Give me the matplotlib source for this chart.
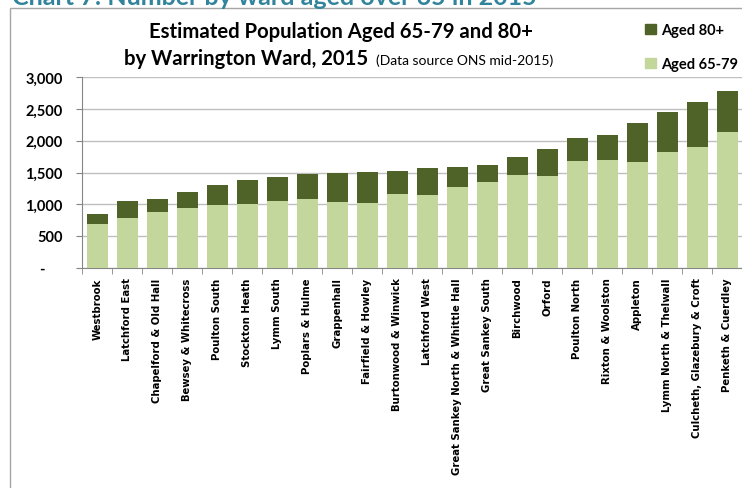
import numpy as np
import matplotlib.pyplot as plt
from matplotlib.patches import Rectangle, Patch

# Ward populations aged 65-79 and 80+, mid-2015
wards = ['Westbrook', 'Latchford East', 'Chapelford & Old Hall',
         'Bewsey & Whitecross', 'Poulton South', 'Stockton Heath',
         'Lymm South', 'Poplars & Hulme', 'Grappenhall',
         'Fairfield & Howley', 'Burtonwood & Winwick', 'Latchford West',
         'Great Sankey North & Whittle Hall', 'Great Sankey South',
         'Birchwood', 'Orford', 'Poulton North', 'Rixton & Woolston',
         'Appleton', 'Lymm North & Thelwall', 'Culcheth, Glazebury & Croft',
         'Penketh & Cuerdley']
aged_65_79 = [688, 788, 878, 945, 993, 1004, 1046, 1082, 1035, 1015, 1161,
              1150, 1276, 1345, 1456, 1445, 1681, 1692, 1670, 1828, 1897, 2138]
aged_80_plus = [153, 258, 200, 248, 315, 383, 378, 394, 452, 488, 363,
                416, 315, 278, 293, 420, 362, 394, 610, 620, 709, 651]
y_ticks = [0, 500, 1000, 1500, 2000, 2500, 3000]
y_tick_labels = ['-     ', '500', '1,000', '1,500', '2,000', '2,500', '3,000']

light = '#C3D69B'
dark = '#4F6228'
W, H = 742, 489

fig = plt.figure(figsize=(W / 100, H / 100), dpi=100)
ax = fig.add_axes([82.3 / W, 1 - 268.7 / H, 660 / W, 190.4 / H])

x = np.arange(len(wards))
ax.bar(x, aged_65_79, width=0.7, color=light, zorder=3)
ax.bar(x, aged_80_plus, width=0.7, bottom=aged_65_79, color=dark, zorder=3)

ax.set_xlim(-0.5, len(wards) - 0.5)
ax.set_ylim(0, 3000)
ax.set_yticks(y_ticks)
ax.set_yticklabels(y_tick_labels, fontfamily='Lato', fontweight='bold',
                   fontsize=10.5)
ax.set_xticks(x)
ax.set_xticklabels(wards, rotation=90, ha='center', va='top',
                   fontfamily='DejaVu Sans', fontweight='bold', fontsize=7.3)
ax.set_xticks(np.arange(-0.5, len(wards)), minor=True)
ax.tick_params(axis='x', which='major', length=0, pad=7)
ax.tick_params(axis='x', which='minor', length=4, color='#868686')
ax.tick_params(axis='y', length=4, color='#868686', pad=10)

ax.grid(axis='y', color='#bfbfbf', lw=1.0, zorder=0)
for side in ['top', 'right']:
    ax.spines[side].set_visible(False)
for side in ['left', 'bottom']:
    ax.spines[side].set_color('#868686')

# chart frame and page heading above it
fig.patches.append(Rectangle((10 / W, -0.2), 1.5, 1 - 9 / H + 0.2,
                             transform=fig.transFigure, fill=False,
                             ec='#a6a6a6', lw=1.0))
fig.text(12 / W, 1 - 5 / H, 'Chart 7: Number by ward aged over 65 in 2015',
         color='#31849B', fontfamily='Lato', fontweight='bold',
         fontsize=18, va='baseline', ha='left')

fig.text(341 / W, 1 - 38 / H, 'Estimated Population Aged 65-79 and 80+',
         fontfamily='Lato', fontweight='bold', fontsize=14.6,
         ha='center', va='baseline')
fig.text(368 / W, 1 - 65 / H, 'by Warrington Ward, 2015',
         fontfamily='Lato', fontweight='bold', fontsize=14.6,
         ha='right', va='baseline')
fig.text(376 / W, 1 - 65 / H, '(Data source ONS mid-2015)',
         fontfamily='Lato', fontsize=10, ha='left', va='baseline')

handles = [Patch(color=dark, label='Aged 80+'),
           Patch(color=light, label='Aged 65-79')]
fig.legend(handles=handles, loc='upper left',
           bbox_to_anchor=(638 / W, 1 - 17 / H), frameon=False,
           prop={'family': 'Lato', 'weight': 'bold', 'size': 10.5},
           handlelength=0.7, handleheight=0.7, handletextpad=0.35,
           labelspacing=1.35, borderpad=0)

fig.savefig('out.png', dpi=100)
